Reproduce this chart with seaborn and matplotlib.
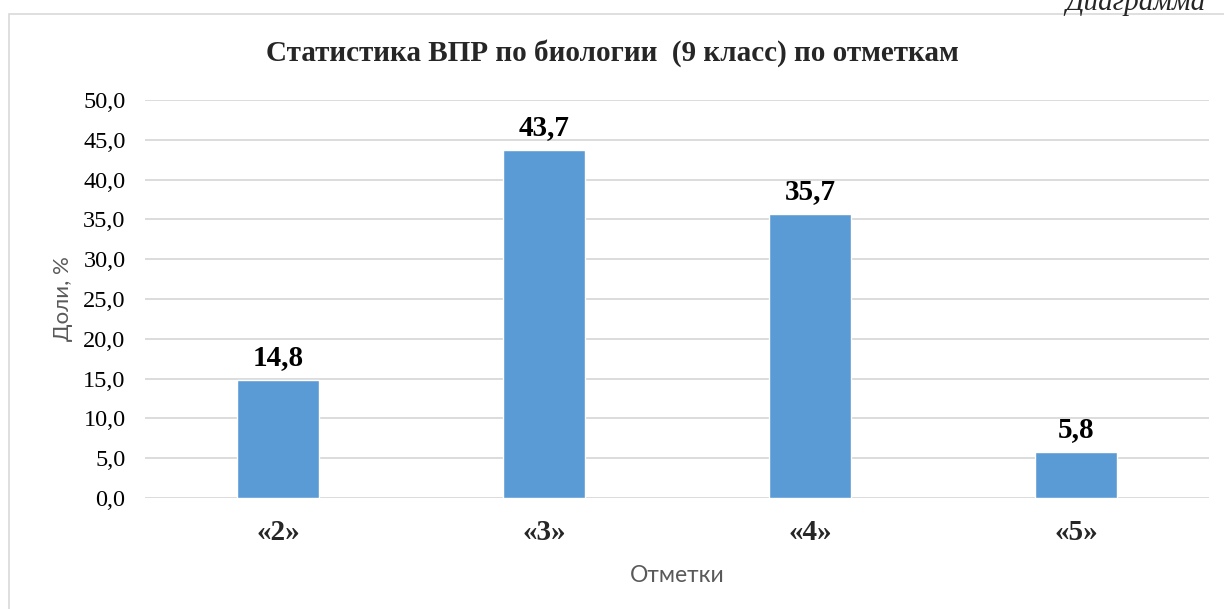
import matplotlib
matplotlib.use("Agg")
import matplotlib.pyplot as plt
import seaborn as sns
import pandas as pd
from matplotlib.patches import Rectangle

# data
marks = ["«2»", "«3»", "«4»", "«5»"]
shares = [14.8, 43.7, 35.7, 5.8]
y_ticks = [0, 5, 10, 15, 20, 25, 30, 35, 40, 45, 50]

title = "Статистика ВПР по биологии  (9 класс) по отметкам"
bar_color = "#5B9BD5"
grid_color = "#d9d9d9"
serif = ["Liberation Serif", "DejaVu Serif"]
sans = ["Lato", "DejaVu Sans"]

sns.set_theme(style="white")
plt.rcParams["font.family"] = serif

df = pd.DataFrame({"mark": marks, "share": shares})

fig = plt.figure(figsize=(12.24, 6.09), dpi=100)
ax = fig.add_axes([145 / 1224, 1 - 498 / 609, 1064 / 1224, 398 / 609])

# outer chart frame (cut on the right and bottom like the screenshot)
fig.patches.append(Rectangle((9 / 1224, -0.05), 1.2, 1 - 14 / 609 + 0.05,
                             transform=fig.transFigure, fill=False,
                             edgecolor=grid_color, linewidth=1.2, zorder=0))

sns.barplot(data=df, x="mark", y="share", color=bar_color, width=0.31,
            saturation=1, ax=ax, zorder=3)

ax.set_ylim(0, 50)
ax.set_yticks(y_ticks)
ax.set_yticklabels([f"{v:.1f}".replace(".", ",") for v in y_ticks],
                   fontsize=17.5, color="black")
ax.yaxis.grid(True, color=grid_color, linewidth=1.3, zorder=0)
ax.set_axisbelow(True)
for s in ax.spines.values():
    s.set_visible(False)
ax.tick_params(axis="y", length=0, pad=14)
ax.tick_params(axis="x", length=0, pad=15)
for lbl in ax.get_xticklabels():
    lbl.set_fontsize(21)
    lbl.set_fontweight("bold")

for i, v in enumerate(shares):
    ax.text(i, v + 1.1, f"{v:.1f}".replace(".", ","), ha="center", va="bottom",
            fontsize=21, fontweight="bold", color="black")

ax.set_xlabel("Отметки", family=sans, fontsize=16.5, color="#595959", labelpad=14)
ax.set_ylabel("Доли, %", family=sans, fontsize=16, color="#595959")
ax.yaxis.set_label_coords(-72 / 1064, 0.5)

fig.text(0.5, 1 - 53 / 609, title, ha="center", va="center",
         fontsize=21, fontweight="bold")
fig.text(1065 / 1224, 1 - 10 / 609, "Диаграмма", ha="left", va="baseline",
         fontsize=21, style="italic")

fig.savefig("out.png", dpi=100)
